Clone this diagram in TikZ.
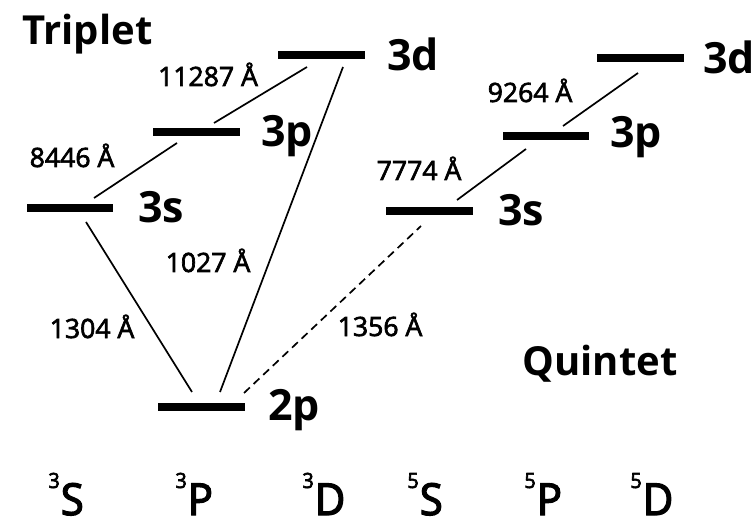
\documentclass[tikz,border=0pt]{standalone}
\usepackage{fontspec}
\setmainfont{Open Sans}
\newfontfamily\semifont[FakeBold=2.5]{Open Sans}
\newfontfamily\termfont[FakeBold=3,FakeStretch=0.95]{Open Sans}
\tikzset{
  level/.style={fill=black, inner sep=0pt, minimum width=43.25pt, minimum height=4.25pt},
  trans/.style={line width=0.85pt},
  wl/.style={anchor=base, inner sep=0pt, font=\semifont\fontsize{13.3}{14}\selectfont},
  orb/.style={anchor=base west, inner sep=0pt, font=\fontsize{21.5}{22}\selectfont\bfseries},
  multi/.style={anchor=base west, inner sep=0pt, font=\fontsize{20}{22}\selectfont\bfseries},
  termlbl/.style={anchor=base west, inner sep=0pt, font=\termfont\fontsize{22}{24}\selectfont}
}
\newcommand{\term}[2]{{\fontsize{10.5}{11}\selectfont\raisebox{13.5pt}{#1}}\kern0.5pt#2}
\begin{document}
\begin{tikzpicture}[x=0.5pt,y=-0.5pt]
  \useasboundingbox (0,0) rectangle (754,523);
  % levels
  \node[level] (t3s) at (70,208) {};
  \node[level] (t3p) at (196.5,132) {};
  \node[level] (t3d) at (321.5,55) {};
  \node[level] (t2p) at (201.5,407) {};
  \node[level] (q3s) at (429.5,211) {};
  \node[level] (q3p) at (546,136) {};
  \node[level] (q3d) at (640.5,58) {};
  \node[orb] (t3s-l) at (138,223) {3s};
  \node[orb] (t3p-l) at (261,147) {3p};
  \node[orb] (t3d-l) at (387,71) {3d};
  \node[orb] (t2p-l) at (268,420) {2p};
  \node[orb] (q3s-l) at (498,226) {3s};
  \node[orb] (q3p-l) at (610,148) {3p};
  \node[orb] (q3d-l) at (703,74) {3d};
  \node[multi] (trip) at (22,45) {Triplet};
  \node[multi] (quin) at (522,375) {Quintet};
  % line ends
  \coordinate (a1) at (94,198);   \coordinate (a2) at (177,143);
  \coordinate (b1) at (214,123);  \coordinate (b2) at (307,67);
  \coordinate (c1) at (343,67);   \coordinate (c2) at (220,392);
  \coordinate (d1) at (86,222);   \coordinate (d2) at (192,392);
  \coordinate (e1) at (244,393);  \coordinate (e2) at (421,226);
  \coordinate (f1) at (457,200);  \coordinate (f2) at (526,149);
  \coordinate (g1) at (563,126);  \coordinate (g2) at (638,73);
  \draw[trans] (a1) -- (a2);
  \draw[trans] (b1) -- (b2);
  \draw[trans] (c1) -- (c2);
  \draw[trans] (d1) -- (d2);
  \draw[trans,dash pattern=on 4pt off 2.6pt] (e1) -- (e2);
  \draw[trans] (f1) -- (f2);
  \draw[trans] (g1) -- (g2);
  % wavelengths
  \node[wl] (w8446) at (72,167) {8446 Å};
  \node[wl] (w11287) at (208,86) {11287 Å};
  \node[wl] (w1027) at (208,272) {1027 Å};
  \node[wl] (w1304) at (92,338) {1304 Å};
  \node[wl] (w1356) at (380,336) {1356 Å};
  \node[wl] (w7774) at (419,180) {7774 Å};
  \node[wl] (w9264) at (530,102) {9264 Å};
  % terms
  \node[termlbl] (s3S) at (48,515) {\term{3}{S}};
  \node[termlbl] (s3P) at (175,515) {\term{3}{P}};
  \node[termlbl] (s3D) at (302,515) {\term{3}{D}};
  \node[termlbl] (s5S) at (407,515) {\term{5}{S}};
  \node[termlbl] (s5P) at (524,515) {\term{5}{P}};
  \node[termlbl] (s5D) at (630,515) {\term{5}{D}};
\end{tikzpicture}
\end{document}
